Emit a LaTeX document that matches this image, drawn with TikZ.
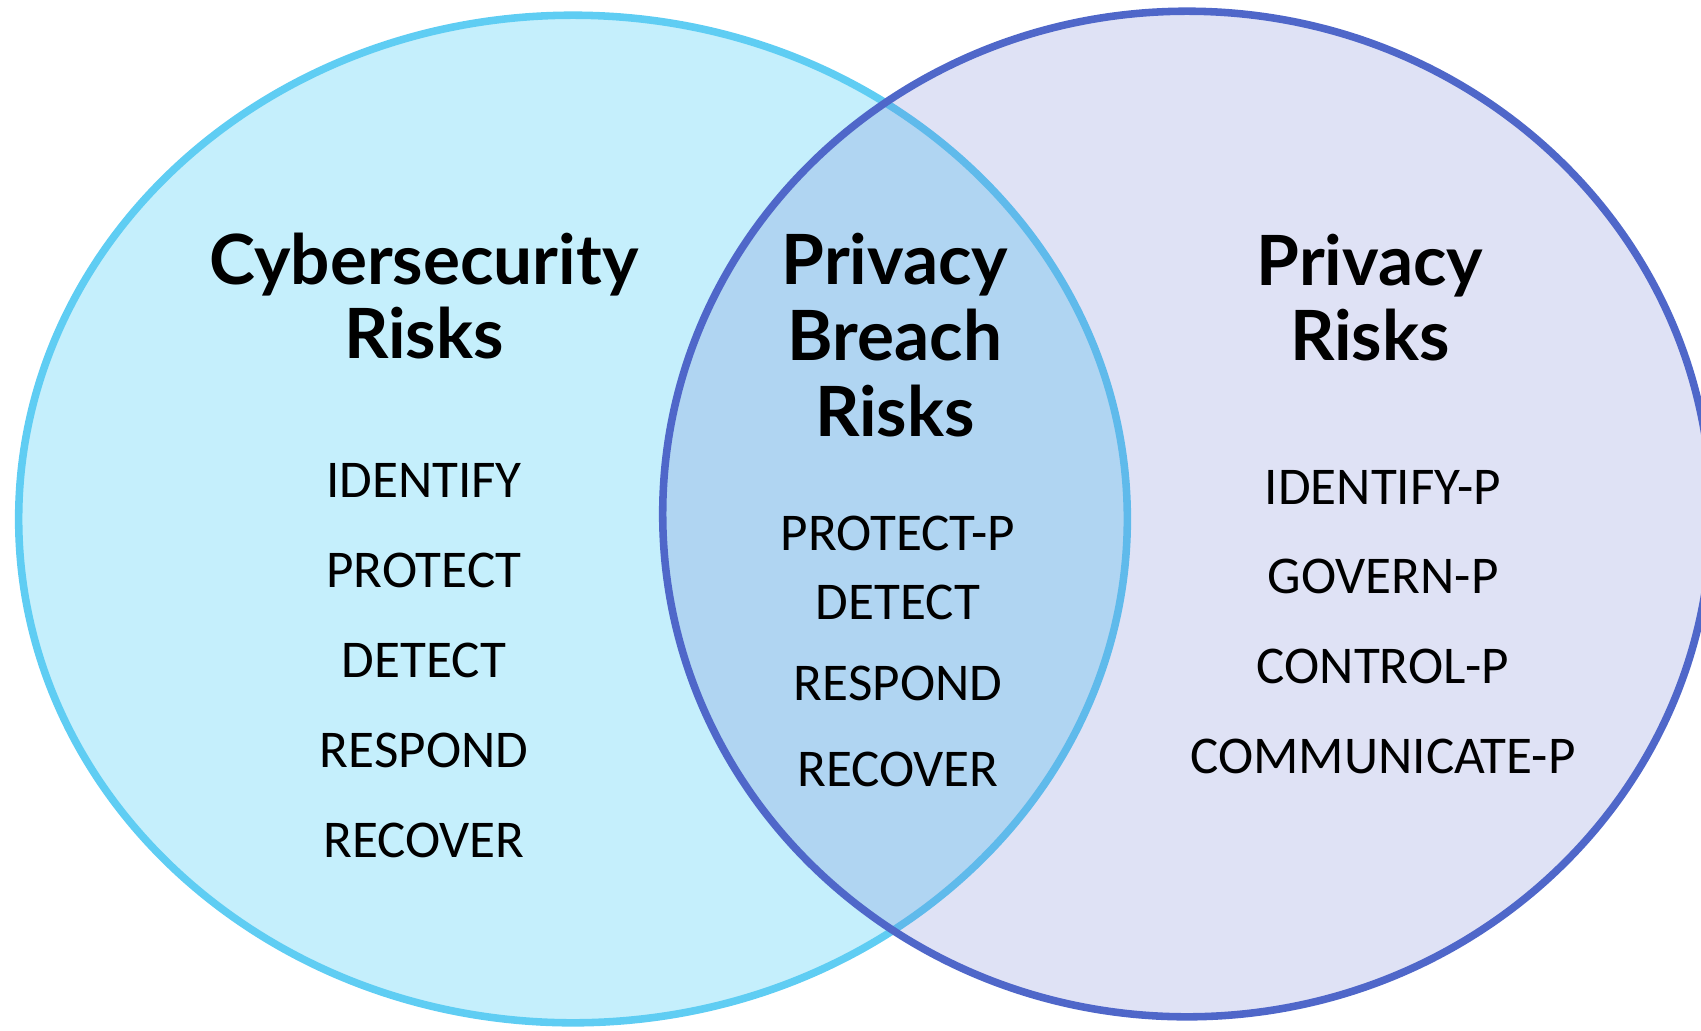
\documentclass[tikz,border=0pt]{standalone}
\usepackage{fontspec}
\setmainfont{Carlito}
\newfontfamily\titlefont{Lato}
\newfontfamily\itemfont{Carlito}
\usetikzlibrary{shapes.geometric}
\definecolor{cyfill}{RGB}{197,239,252}
\definecolor{cyline}{RGB}{95,205,243}
\definecolor{prfill}{RGB}{95,110,205}
\definecolor{prline}{RGB}{79,103,201}
\tikzset{
  setleft/.style={ellipse, draw=cyline, fill=cyfill, line width=2.15pt, inner sep=0pt,
    minimum width=11.08cm, minimum height=10.07cm},
  setright/.style={ellipse, draw=prline, fill=prfill, fill opacity=0.2, draw opacity=1,
    line width=2.15pt, inner sep=0pt, minimum width=10.48cm, minimum height=10.05cm},
  ttl/.style={anchor=base, inner sep=0pt, font=\titlefont\bfseries\fontsize{19.7}{22}\selectfont},
  itm/.style={anchor=base, inner sep=0pt, font=\itemfont\fontsize{15.1}{17}\selectfont},
}
\begin{document}
\begin{tikzpicture}[x=0.01cm, y=-0.01cm]
\useasboundingbox (0,0) rectangle (1701,1030);
\clip (0,0) rectangle (1701,1030);
\node[setleft] (cyber) at (573,519) {};
\node[setright] (priv) at (1187,514) {};
% left titles
\node[ttl] (t1a) at (424,284) {Cybersecurity};
\node[ttl] (t1b) at (424,358) {Risks};
% middle titles
\node[ttl] (t2a) at (895,284) {Privacy};
\node[ttl] (t2b) at (895,360) {Breach};
\node[ttl] (t2c) at (895,436) {Risks};
% right titles
\node[ttl] (t3a) at (1370,285) {Privacy};
\node[ttl] (t3b) at (1370,360) {Risks};
% left items
\node[itm] (l1) at (424,497) {IDENTIFY};
\node[itm] (l2) at (424,587) {PROTECT};
\node[itm] (l3) at (424,677) {DETECT};
\node[itm] (l4) at (424,767) {RESPOND};
\node[itm] (l5) at (424,857) {RECOVER};
% middle items
\node[itm] (m1) at (898,550) {PROTECT-P};
\node[itm] (m2) at (898,619) {DETECT};
\node[itm] (m3) at (898,700) {RESPOND};
\node[itm] (m4) at (898,786) {RECOVER};
% right items
\node[itm] (r1) at (1383,504) {IDENTIFY-P};
\node[itm] (r2) at (1383,593) {GOVERN-P};
\node[itm] (r3) at (1383,683) {CONTROL-P};
\node[itm] (r4) at (1383,773) {COMMUNICATE-P};
\end{tikzpicture}
\end{document}
